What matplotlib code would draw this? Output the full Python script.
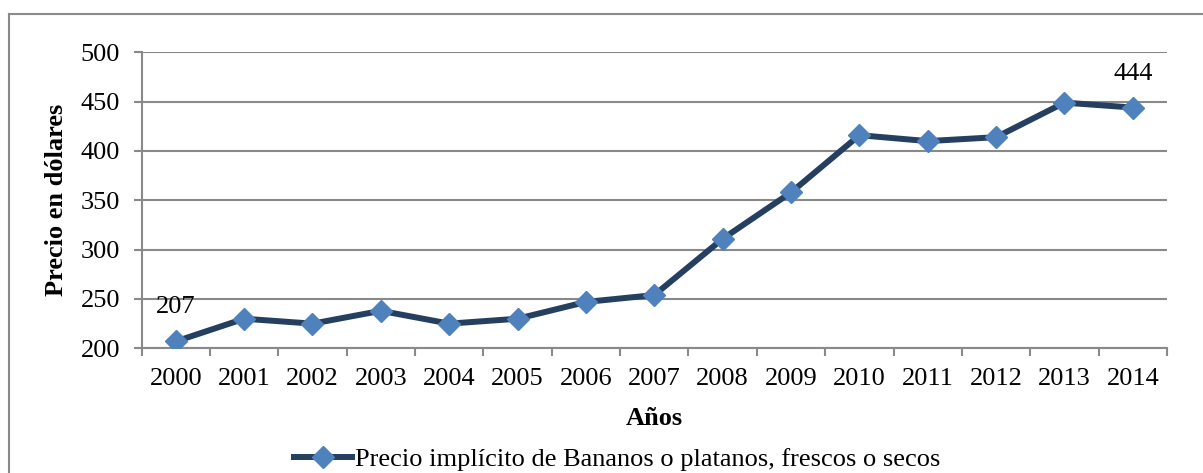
import numpy as np
import matplotlib
matplotlib.use("Agg")
import matplotlib.pyplot as plt
from matplotlib.lines import Line2D

plt.rcParams['font.family'] = ['Liberation Serif', 'DejaVu Serif']

# data
years = ['2000', '2001', '2002', '2003', '2004', '2005', '2006', '2007',
         '2008', '2009', '2010', '2011', '2012', '2013', '2014']
precio = [207, 230, 225, 238, 225, 230, 247, 254, 311, 358, 416, 410, 414, 449, 444]
yticks = [200, 250, 300, 350, 400, 450, 500]
serie = 'Precio implícito de Bananos o platanos, frescos o secos'

gray = '#898989'
line_col = '#243F60'
mark_col = '#4F81BD'

fig = plt.figure(figsize=(12.03, 4.73), dpi=100)
ax = fig.add_axes([0.1177, 0.2636, 0.9701 - 0.1177, 0.8894 - 0.2636])

x = np.arange(len(years))
ax.plot(x, precio, color=line_col, lw=4.3, marker='D', ms=11,
        mfc=mark_col, mec=mark_col, label=serie, zorder=3)

# data labels on first and last point
for i in [0, len(years) - 1]:
    ax.annotate(str(precio[i]), (x[i], precio[i]), xytext=(0, 34),
                textcoords='offset pixels', ha='center', va='center',
                fontsize=19, color='black')

ax.set_xlim(-0.5, len(years) - 0.5)
ax.set_ylim(200, 500)
ax.set_yticks(yticks)
ax.set_xticks(x)
ax.set_xticklabels(years)
ax.set_xticks(np.arange(len(years) + 1) - 0.5, minor=True)

ax.grid(axis='y', color=gray, lw=1.5)
ax.set_axisbelow(True)
for s in ['top', 'right']:
    ax.spines[s].set_visible(False)
for s in ['left', 'bottom']:
    ax.spines[s].set_color(gray)
    ax.spines[s].set_linewidth(1.5)

ax.tick_params(axis='y', colors=gray, labelcolor='black', labelsize=19,
               length=5.5, width=1.5, pad=10)
ax.tick_params(axis='x', which='major', length=0, labelcolor='black',
               labelsize=19, pad=14)
ax.tick_params(axis='x', which='minor', colors=gray, length=6, width=1.5)

ax.set_ylabel('Precio en dólares', fontsize=19, fontweight='bold', va='center')
ax.yaxis.set_label_coords(-0.0825, 0.5)
ax.set_xlabel('Años', fontsize=19, fontweight='bold', va='center')
ax.xaxis.set_label_coords(0.5, -0.2355)

fig.legend(loc='center', bbox_to_anchor=(617 / 1203, 1 - 459 / 473),
           frameon=False, fontsize=19, handlelength=2.2, handletextpad=0.1,
           borderpad=0)

# chart area border (cropped on right and bottom)
fig.add_artist(Line2D([9 / 1203, 1], [1 - 14 / 473, 1 - 14 / 473],
                      color=gray, lw=1.5, transform=fig.transFigure))
fig.add_artist(Line2D([9 / 1203, 9 / 1203], [0, 1 - 14 / 473],
                      color=gray, lw=1.5, transform=fig.transFigure))

fig.savefig('out.png', dpi=100)
